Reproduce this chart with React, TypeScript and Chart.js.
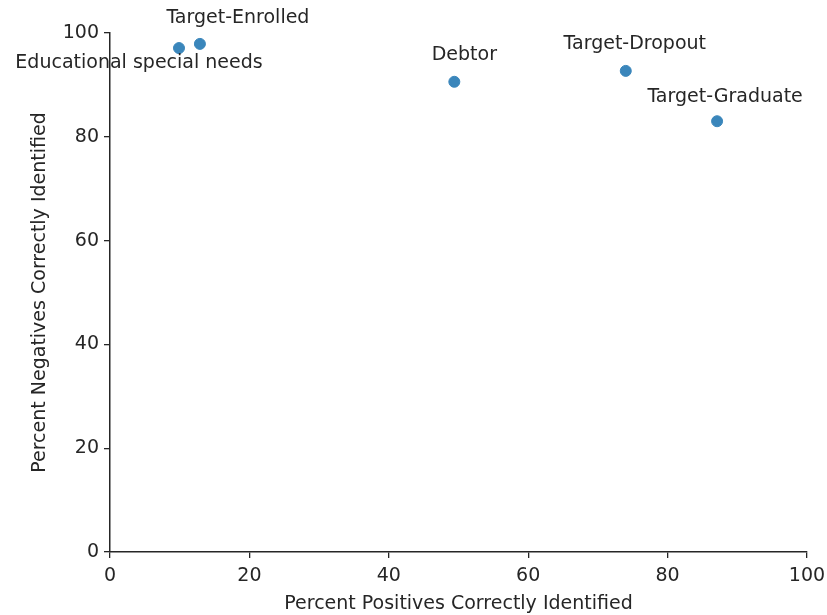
import React, { useEffect, useRef } from "react";
import { Chart, registerables } from "chart.js";

Chart.register(...registerables);

const labels = [
  "Educational special needs",
  "Target-Enrolled",
  "Debtor",
  "Target-Dropout",
  "Target-Graduate",
];
const positivesPct = [9.9, 12.9, 49.4, 74.0, 87.1];
const negativesPct = [97.1, 97.9, 90.6, 92.7, 83.0];
// label offsets in pixels (style only)
const labelDx = [-40, 38, 10, 9, 8];
const labelDy = [15, -26, -27, -27, -24];

const FONT = "'DejaVu Sans', sans-serif";
const FS = 19;

const labelPlugin = {
  id: "pointLabels",
  afterDatasetsDraw(chart: any) {
    const ctx = chart.ctx;
    const meta = chart.getDatasetMeta(0);
    ctx.save();
    ctx.font = `${FS}px ${FONT}`;
    ctx.fillStyle = "#262626";
    ctx.textAlign = "center";
    ctx.textBaseline = "middle";
    meta.data.forEach((pt: any, i: number) => {
      ctx.fillText(labels[i], pt.x + labelDx[i], pt.y + labelDy[i]);
    });
    ctx.restore();
  },
};

export default function App() {
  const ref = useRef<HTMLCanvasElement | null>(null);
  useEffect(() => {
    if (!ref.current) return;
    const chart = new Chart(ref.current, {
      type: "scatter",
      data: {
        datasets: [
          {
            data: positivesPct.map((x, i) => ({ x, y: negativesPct[i] })),
            backgroundColor: "#3a86bb",
            borderColor: "#3a86bb",
            pointRadius: 5.5,
          },
        ],
      },
      options: {
        animation: false,
        responsive: false,
        layout: { padding: { left: 0, right: 20, top: 33, bottom: 0 } },
        plugins: { legend: { display: false }, tooltip: { enabled: false } },
        scales: {
          x: {
            type: "linear",
            min: 0,
            max: 100,
            afterFit: (s: any) => {
              s.height = 63;
              s.paddingLeft = 0;
              s.paddingRight = 0;
            },
            ticks: { stepSize: 20, color: "#262626", font: { family: FONT, size: FS }, padding: 7 },
            grid: { display: true, drawOnChartArea: false, drawTicks: true, tickLength: 6, color: "#262626", lineWidth: 1.3 },
            border: { display: true, color: "#262626", width: 1.5 },
            title: {
              display: true,
              text: "Percent Positives Correctly Identified",
              color: "#262626",
              font: { family: FONT, size: FS },
              padding: { top: 0, bottom: 0 },
            },
          },
          y: {
            type: "linear",
            min: 0,
            max: 100,
            afterFit: (s: any) => {
              s.width = 110;
              s.paddingTop = 0;
              s.paddingBottom = 0;
            },
            ticks: { stepSize: 20, color: "#262626", font: { family: FONT, size: FS }, padding: 5 },
            grid: { display: true, drawOnChartArea: false, drawTicks: true, tickLength: 6, color: "#262626", lineWidth: 1.3 },
            border: { display: true, color: "#262626", width: 1.5 },
            title: {
              display: true,
              text: "Percent Negatives Correctly Identified",
              color: "#262626",
              font: { family: FONT, size: FS },
              padding: { top: 29, bottom: 0 },
            },
          },
        },
      },
      plugins: [labelPlugin],
    });
    return () => chart.destroy();
  }, []);
  return (
    <div style={{ position: "absolute", left: 0, top: 0, width: 827, height: 615, background: "#fff" }}>
      <canvas ref={ref} width={827} height={615} style={{ width: 827, height: 615 }} />
    </div>
  );
}
